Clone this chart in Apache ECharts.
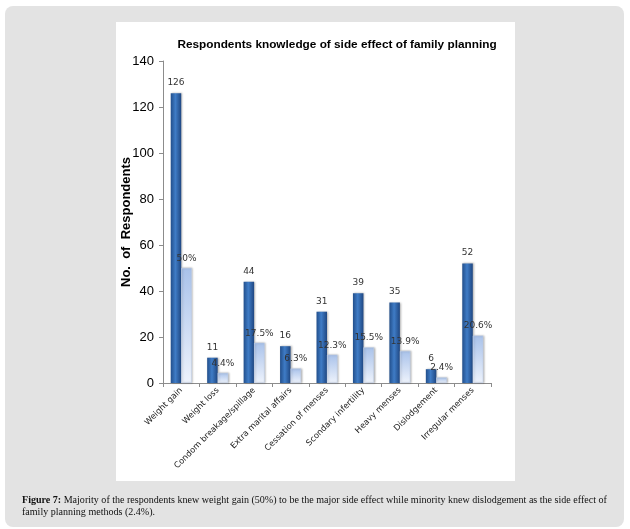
<!DOCTYPE html>
<html>
<head>
<meta charset="utf-8">
<script src="https://cdn.jsdelivr.net/npm/echarts@6/dist/echarts.min.js"></script>
<style>
html, body { margin: 0; padding: 0; background: #ffffff; }
#panel { position: absolute; left: 5px; top: 6px; width: 619px; height: 521px; background: #e3e3e3; border-radius: 8px; }
#plot { position: absolute; left: 116px; top: 22px; width: 399px; height: 459px; background: #ffffff; }
#chart { position: absolute; left: 0; top: 0; width: 630px; height: 529px; }
#caption { position: absolute; left: 22px; top: 494px; width: 600px; white-space: nowrap; font-family: "Liberation Serif", serif; font-size: 10.05px; line-height: 12px; color: #111; }
</style>
</head>
<body>
<div id="panel"></div>
<div id="plot"></div>
<div id="chart"></div>
<div id="caption"><b>Figure 7:</b> Majority of the respondents knew weight gain (50%) to be the major side effect while minority knew dislodgement as the side effect of<br>family planning methods (2.4%).</div>
<script>
// 类别
var categories = ['Weight gain', 'Weight loss', 'Condom breakage/spillage', 'Extra marital affairs',
	'Cessation of menses', 'Scondary infertility', 'Heavy menses', 'Dislodgement', 'Irregular menses'];
// 人数
var counts = [126, 11, 44, 16, 31, 39, 35, 6, 52];
// 百分比
var percents = [50, 4.4, 17.5, 6.3, 12.3, 15.5, 13.9, 2.4, 20.6];
// y轴刻度
var yTicks = [0, 20, 40, 60, 80, 100, 120, 140];

var myChart = echarts.init(document.getElementById('chart'));
var option = {
	animation: false,
	title: {
		text: 'Respondents knowledge of side effect of family planning',
		left: 332,
		top: 34,
		textAlign: 'center',
		textStyle: {
			fontFamily: 'Liberation Sans',
			fontWeight: 'bold',
			fontSize: 11.8,
			color: '#000'
		}
	},
	grid: {
		left: 163,
		right: 139,
		top: 61,
		bottom: 146
	},
	xAxis: {
		type: 'category',
		data: categories,
		axisLine: { lineStyle: { color: '#8c8c8c' } },
		axisTick: { show: true, length: 4, lineStyle: { color: '#8c8c8c' } },
		axisLabel: {
			rotate: 45,
			interval: 0,
			margin: 6,
			fontFamily: 'DejaVu Sans',
			fontSize: 8.3,
			color: '#222'
		}
	},
	yAxis: {
		type: 'value',
		min: yTicks[0],
		max: yTicks[yTicks.length - 1],
		interval: 20,
		name: 'No.  of  Respondents',
		nameLocation: 'middle',
		nameGap: 30,
		nameMoveOverlap: false,
		nameTextStyle: {
			fontFamily: 'Liberation Sans',
			fontWeight: 'bold',
			fontSize: 13,
			color: '#000'
		},
		axisLine: { show: true, lineStyle: { color: '#8c8c8c' } },
		axisTick: { show: true, length: 4, lineStyle: { color: '#8c8c8c' } },
		splitLine: { show: false },
		axisLabel: {
			margin: 9,
			fontFamily: 'Liberation Sans',
			fontSize: 13,
			color: '#000'
		}
	},
	series: [{
		name: 'Respondents',
		type: 'bar',
		data: counts,
		barWidth: 10.5,
		barGap: '0%',
		itemStyle: {
			color: new echarts.graphic.LinearGradient(0, 0, 1, 0, [
				{ offset: 0, color: '#224f8c' },
				{ offset: 0.45, color: '#3f7cc6' },
				{ offset: 1, color: '#1f4782' }
			]),
			shadowColor: 'rgba(0,0,0,0.3)',
			shadowOffsetX: 1,
			shadowOffsetY: 0,
			shadowBlur: 2
		},
		label: {
			show: true,
			position: 'top',
			distance: 6,
			fontFamily: 'DejaVu Sans',
			fontSize: 9,
			color: '#333'
		}
	}, {
		name: 'Percent',
		type: 'bar',
		data: percents,
		barWidth: 10.5,
		itemStyle: {
			color: new echarts.graphic.LinearGradient(0, 0, 0, 1, [
				{ offset: 0, color: '#a9c2ea' },
				{ offset: 1, color: '#eef3fc' }
			]),
			borderColor: '#c3d3ee',
			borderWidth: 0.5,
			shadowColor: 'rgba(0,0,0,0.3)',
			shadowOffsetX: 1,
			shadowOffsetY: 0,
			shadowBlur: 2
		},
		label: {
			show: true,
			position: 'top',
			distance: 5,
			formatter: function (p) {
				return p.value + '%';
			},
			fontFamily: 'DejaVu Sans',
			fontSize: 9,
			color: '#333'
		}
	}]
};
myChart.setOption(option);
</script>
</body>
</html>
